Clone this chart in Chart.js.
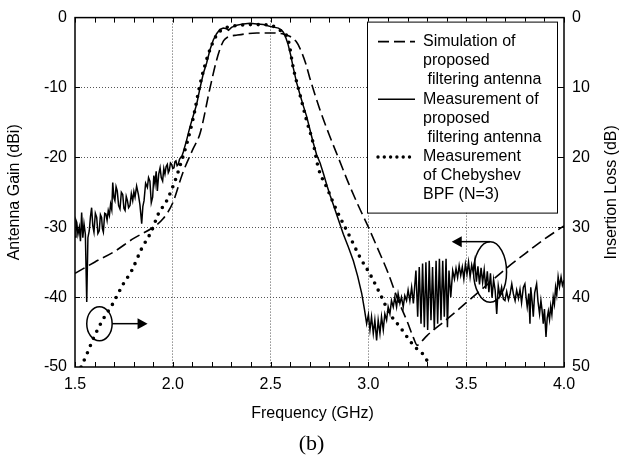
<!DOCTYPE html>
<html>
<head>
<meta charset="utf-8">
<script src="https://cdn.jsdelivr.net/npm/chart.js@4.4.0/dist/chart.umd.min.js"></script>
<style>
  html, body { margin:0; padding:0; background:#fff; }
</style>
</head>
<body>
<canvas id="gainChart" width="630" height="459"></canvas>
<script>

/* data */
let freqSim = [1.50,1.60,1.70,1.80,1.90,1.95,2.00,2.05,2.10,2.14,2.19,2.22,2.24,2.26,2.28,2.33,2.43,2.52,2.57,2.60,2.63,2.65,2.68,2.70,2.75,2.80,2.85,2.90,2.95,3.00,3.05,3.10,3.15,3.20,3.23,3.25,3.27,3.30,3.40,3.50,3.60,3.70,3.80,3.90,4.00];
let gainSim = [-36.6,-35.0,-33.5,-31.6,-30.0,-28.8,-26.5,-22.3,-19.0,-16.5,-10.1,-6.5,-4.6,-3.3,-2.8,-2.5,-2.2,-2.2,-2.4,-2.7,-3.4,-4.4,-6.6,-8.6,-13.0,-16.8,-20.3,-23.8,-27.0,-30.0,-33.2,-36.5,-40.3,-43.6,-45.8,-46.9,-46.4,-45.5,-43.2,-40.8,-38.4,-36.0,-33.8,-31.7,-29.8];

let freqMeas = [1.500,1.505,1.509,1.515,1.522,1.528,1.534,1.540,1.546,1.553,1.560,1.566,1.573,1.579,1.585,1.591,1.597,1.604,1.611,1.617,1.624,1.630,1.636,1.640,1.645,1.652,1.658,1.664,1.670,1.676,1.682,1.688,1.693,1.699,1.704,1.710,1.716,1.723,1.730,1.737,1.744,1.750,1.756,1.762,1.768,1.774,1.781,1.788,1.795,1.801,1.807,1.815,1.824,1.832,1.841,1.847,1.853,1.861,1.870,1.876,1.883,1.890,1.897,1.903,1.909,1.915,1.921,1.928,1.935,1.941,1.948,1.954,1.960,1.966,1.972,1.977,1.982,1.988,1.994,2.000,2.006,2.011,2.016,2.022,2.028,2.034,2.040,2.047,2.054,2.070,2.088,2.105,2.122,2.139,2.156,2.173,2.190,2.207,2.224,2.241,2.258,2.275,2.285,2.300,2.327,2.360,2.395,2.430,2.463,2.490,2.506,2.522,2.540,2.556,2.565,2.578,2.590,2.603,2.616,2.633,2.650,2.667,2.685,2.700,2.718,2.735,2.753,2.770,2.790,2.805,2.820,2.845,2.872,2.897,2.923,2.945,2.966,2.980,2.991,3.000,3.008,3.016,3.025,3.033,3.042,3.050,3.059,3.067,3.076,3.084,3.093,3.101,3.110,3.118,3.127,3.135,3.144,3.152,3.161,3.169,3.178,3.186,3.195,3.203,3.212,3.221,3.230,3.243,3.252,3.260,3.269,3.277,3.286,3.294,3.303,3.311,3.320,3.328,3.337,3.346,3.354,3.363,3.371,3.380,3.388,3.397,3.404,3.412,3.421,3.431,3.440,3.448,3.456,3.464,3.472,3.480,3.488,3.496,3.504,3.512,3.520,3.528,3.536,3.544,3.552,3.560,3.568,3.576,3.584,3.592,3.600,3.608,3.616,3.624,3.632,3.640,3.648,3.656,3.664,3.672,3.681,3.690,3.698,3.707,3.716,3.724,3.733,3.741,3.750,3.758,3.767,3.775,3.783,3.792,3.800,3.806,3.812,3.820,3.826,3.830,3.837,3.843,3.850,3.860,3.867,3.875,3.882,3.888,3.894,3.900,3.908,3.914,3.920,3.926,3.932,3.938,3.945,3.951,3.957,3.963,3.970,3.977,3.985,3.992,4.000];
let gainMeas = [-31.4,-29.0,-29.3,-31.0,-30.0,-32.0,-27.9,-31.5,-29.5,-31.0,-40.7,-31.5,-30.5,-28.5,-27.2,-29.8,-30.7,-28.0,-28.6,-30.9,-30.5,-28.2,-28.6,-30.2,-30.7,-28.0,-28.1,-29.0,-27.6,-28.3,-26.7,-27.5,-23.6,-25.8,-26.2,-24.2,-24.8,-26.9,-27.4,-25.0,-25.3,-27.3,-27.6,-25.6,-26.2,-27.2,-26.9,-25.2,-26.2,-24.9,-25.7,-24.1,-25.3,-26.8,-29.5,-27.0,-26.2,-23.7,-24.3,-22.9,-23.4,-26.5,-25.7,-22.6,-23.8,-22.0,-24.8,-22.4,-21.5,-22.9,-23.4,-21.6,-22.4,-21.3,-21.0,-22.2,-21.9,-20.8,-21.0,-21.6,-21.5,-20.6,-20.5,-21.2,-21.0,-20.3,-20.0,-19.8,-19.2,-17.6,-15.6,-14.0,-12.4,-10.1,-8.0,-6.5,-4.6,-3.2,-2.3,-1.7,-1.5,-1.6,-1.8,-1.4,-1.1,-0.9,-0.8,-0.9,-1.0,-1.2,-1.3,-1.4,-1.5,-1.8,-2.1,-2.9,-3.9,-5.4,-7.2,-9.3,-11.0,-12.6,-14.2,-15.9,-17.9,-19.6,-20.8,-22.3,-24.2,-25.5,-26.7,-28.8,-31.0,-32.8,-34.8,-37.0,-39.5,-41.8,-43.8,-42.5,-44.7,-42.8,-45.2,-43.3,-46.2,-43.3,-45.2,-42.8,-44.7,-42.4,-43.3,-41.4,-42.4,-40.5,-41.4,-40.0,-41.4,-39.5,-40.9,-40.0,-41.4,-39.8,-40.5,-39.0,-40.5,-38.6,-40.9,-36.2,-42.8,-35.7,-43.8,-35.2,-44.3,-35.0,-44.7,-34.8,-43.3,-35.7,-44.7,-34.8,-43.8,-34.5,-43.3,-34.8,-42.8,-34.5,-44.3,-36.2,-40.0,-36.2,-37.4,-35.9,-37.2,-35.5,-36.9,-35.7,-37.4,-35.3,-36.7,-35.0,-37.1,-35.4,-36.5,-34.9,-37.8,-35.6,-38.2,-35.8,-37.9,-36.1,-38.8,-36.3,-39.3,-36.6,-40.1,-37.5,-39.0,-42.4,-38.4,-39.8,-38.6,-40.3,-40.5,-39.2,-40.4,-39.6,-38.1,-39.5,-40.5,-39.0,-40.2,-38.9,-40.8,-38.6,-38.1,-40.0,-41.4,-39.5,-43.8,-38.6,-40.6,-42.8,-39.4,-38.1,-40.6,-42.4,-40.5,-41.9,-43.8,-41.7,-45.7,-43.0,-42.0,-43.2,-41.3,-42.5,-40.0,-41.0,-38.6,-39.7,-37.1,-38.5,-37.1,-38.3,-37.6];

/* Chebyshev BPF, insertion loss (right axis) */
let freqBpf = [1.531,1.563,1.594,1.645,1.688,1.747,1.790,1.840,1.892,1.926,1.969,2.011,2.045,2.071,2.105,2.139,2.181,2.224,2.260,2.292,2.340,2.395,2.450,2.497,2.548,2.590,2.616,2.650,2.685,2.718,2.744,2.787,2.838,2.906,2.957,3.008,3.059,3.110,3.162,3.230,3.298,3.310];
let lossBpf = [50.0,48.0,45.9,43.1,41.2,38.1,36.2,33.1,30.5,28.1,26.2,23.4,20.5,18.1,14.3,9.6,5.3,2.5,1.6,1.3,1.1,1.0,1.0,1.1,1.8,3.2,7.2,11.0,14.8,18.0,21.5,24.3,27.6,31.4,34.3,36.7,39.5,42.4,44.3,46.9,49.0,50.0];

let xTicks = [1.5,2.0,2.5,3.0,3.5,4.0];

let legendLines = [
   ["Simulation of","proposed"," filtering antenna"],
   ["Measurement of","proposed"," filtering antenna"],
   ["Measurement","of Chebyshev","BPF (N=3)"]
];

const FONT = "'Liberation Sans', Arial, sans-serif";

function toPoints(xs, ys){
   return xs.map((x,i)=>({x:x, y:ys[i]}));
}

function isMajor(v){
   return xTicks.some(t=>Math.abs(t-v)<1e-6);
}

function drawArrow(ctx, x0, y, x1){
   let dir = x1 > x0 ? 1 : -1;
   ctx.beginPath();
   ctx.moveTo(x0, y);
   ctx.lineTo(x1 - dir*9, y);
   ctx.stroke();
   ctx.beginPath();
   ctx.moveTo(x1, y);
   ctx.lineTo(x1 - dir*10, y-5.5);
   ctx.lineTo(x1 - dir*10, y+5.5);
   ctx.closePath();
   ctx.fill();
}

const paperDecor = {
   id: "paperDecor",
   afterDraw(chart){
      let ctx = chart.ctx;
      let a = chart.chartArea;
      let sx = chart.scales.x;
      let sy = chart.scales.y;
      ctx.save();
      ctx.strokeStyle = "#000";
      ctx.fillStyle = "#000";

      /* inward tick marks */
      ctx.lineWidth = 1;
      for(let f=1.5; f<=4.0001; f+=0.1){
         let px = Math.round(sx.getPixelForValue(f))+0.5;
         ctx.beginPath();
         ctx.moveTo(px, a.bottom); ctx.lineTo(px, a.bottom-5);
         ctx.moveTo(px, a.top); ctx.lineTo(px, a.top+5);
         ctx.stroke();
      }
      for(let g=-40; g<=-10; g+=10){
         let py = Math.round(sy.getPixelForValue(g))+0.5;
         ctx.beginPath();
         ctx.moveTo(a.left, py); ctx.lineTo(a.left+5, py);
         ctx.moveTo(a.right, py); ctx.lineTo(a.right-6, py);
         ctx.stroke();
      }

      /* frame */
      ctx.lineWidth = 1.5;
      ctx.strokeRect(a.left, a.top, a.right-a.left, a.bottom-a.top);

      /* legend box */
      let lx = a.left + 292, ly = a.top + 4, lw = 190, lh = 191;
      ctx.fillStyle = "#fff";
      ctx.fillRect(lx, ly, lw, lh);
      ctx.lineWidth = 1;
      ctx.strokeStyle = "#000";
      ctx.strokeRect(lx+0.5, ly+0.5, lw, lh);
      ctx.fillStyle = "#000";
      ctx.font = "16px " + FONT;
      ctx.textBaseline = "middle";
      ctx.textAlign = "left";
      let styles = [
         {dash:[11,5], width:1.6, cap:"butt"},
         {dash:[], width:1.6, cap:"butt"},
         {dash:[0,6.3], width:3.4, cap:"round"}
      ];
      legendLines.forEach(function(lines, i){
         let y0 = ly + 20 + i*57.7;
         ctx.save();
         ctx.setLineDash(styles[i].dash);
         ctx.lineWidth = styles[i].width;
         ctx.lineCap = styles[i].cap;
         ctx.beginPath();
         ctx.moveTo(lx+11, y0);
         ctx.lineTo(lx+48, y0);
         ctx.stroke();
         ctx.restore();
         lines.forEach(function(t, k){
            ctx.fillText(t, lx+56, y0 + k*19);
         });
      });

      /* ellipses with arrows pointing to the axis they belong to */
      ctx.lineWidth = 1.5;
      let e1x = sx.getPixelForValue(1.625), e1y = sy.getPixelForValue(-43.8);
      ctx.beginPath();
      ctx.ellipse(e1x, e1y, 12.7, 17, 0, 0, Math.PI*2);
      ctx.stroke();
      drawArrow(ctx, e1x+12.7, e1y, sx.getPixelForValue(1.871));

      let e2x = sx.getPixelForValue(3.622), e2y = sy.getPixelForValue(-36.4);
      ctx.beginPath();
      ctx.ellipse(e2x, e2y, 16.5, 30.3, 0, 0, Math.PI*2);
      ctx.stroke();
      drawArrow(ctx, e2x, e2y-30.3, sx.getPixelForValue(3.426));

      /* right axis title, reading bottom to top like the left one */
      ctx.save();
      ctx.font = "16px " + FONT;
      ctx.textAlign = "center";
      ctx.translate(612, (a.top+a.bottom)/2);
      ctx.rotate(-Math.PI/2);
      ctx.fillText("Insertion Loss (dB)", 0, 0);
      ctx.restore();

      /* x title and figure label */
      ctx.textAlign = "center";
      ctx.font = "16px " + FONT;
      ctx.fillText("Frequency (GHz)", (a.left+a.right)/2 - 7, 413.5);
      ctx.font = "22px 'Liberation Serif', 'Times New Roman', serif";
      ctx.fillText("(b)", (a.left+a.right)/2 - 8, 444);

      ctx.restore();
   }
};

let ctx = document.getElementById("gainChart").getContext("2d");

new Chart(ctx, {
   type: "line",
   data: {
      datasets: [
         {
            label: "Simulation of proposed filtering antenna",
            data: toPoints(freqSim, gainSim),
            yAxisID: "y",
            borderColor: "#000",
            borderWidth: 1.6,
            borderDash: [11,5],
            cubicInterpolationMode: "monotone",
            pointRadius: 0,
            fill: false
         },
         {
            label: "Measurement of proposed filtering antenna",
            data: toPoints(freqMeas, gainMeas),
            yAxisID: "y",
            borderColor: "#000",
            borderWidth: 1.5,
            tension: 0,
            pointRadius: 0,
            fill: false
         },
         {
            label: "Measurement of Chebyshev BPF (N=3)",
            data: toPoints(freqBpf, lossBpf),
            yAxisID: "y2",
            borderColor: "#000",
            borderWidth: 3.6,
            borderDash: [0,7.8],
            borderCapStyle: "round",
            cubicInterpolationMode: "monotone",
            pointRadius: 0,
            fill: false
         }
      ]
   },
   options: {
      responsive: false,
      animation: false,
      layout: { padding: { top: 16, left: 0, right: 0, bottom: 0 } },
      plugins: {
         legend: { display: false },
         tooltip: { enabled: false }
      },
      scales: {
         x: {
            type: "linear",
            min: 1.5,
            max: 4.0,
            afterFit: function(s){ s.height = 92; },
            ticks: {
               stepSize: 0.1,
               autoSkip: false,
               maxRotation: 0,
               padding: 8,
               color: "#000",
               font: { family: FONT, size: 16 },
               callback: function(v){ return isMajor(v) ? v.toFixed(1) : ""; }
            },
            grid: {
               drawTicks: false,
               lineWidth: 1,
               color: function(c){
                  let v = c.tick ? c.tick.value : 0;
                  return (isMajor(v) && v > 1.51 && v < 3.99) ? "#555" : "rgba(0,0,0,0)";
               }
            },
            border: { display: false, dash: [1,2] }
         },
         y: {
            position: "left",
            min: -50,
            max: 0,
            afterFit: function(s){ s.width = 75; },
            ticks: {
               stepSize: 10,
               padding: 8,
               color: "#000",
               font: { family: FONT, size: 16 },
               callback: function(v){ return String(v); }
            },
            grid: {
               drawTicks: false,
               lineWidth: 1,
               color: function(c){
                  let v = c.tick ? c.tick.value : 0;
                  return (v < -1 && v > -49) ? "#555" : "rgba(0,0,0,0)";
               }
            },
            border: { display: false, dash: [1,2] },
            title: {
               display: true,
               text: "Antenna Gain (dBi)",
               color: "#000",
               font: { family: FONT, size: 16 },
               padding: { top: 5, bottom: 0 }
            }
         },
         y2: {
            position: "right",
            min: 0,
            max: 50,
            reverse: true,
            afterFit: function(s){ s.width = 66; },
            ticks: {
               stepSize: 10,
               padding: 8,
               color: "#000",
               font: { family: FONT, size: 16 },
               callback: function(v){ return String(v); }
            },
            grid: { display: false, drawTicks: false },
            border: { display: false }
         }
      }
   },
   plugins: [paperDecor]
});

</script>
</body>
</html>
